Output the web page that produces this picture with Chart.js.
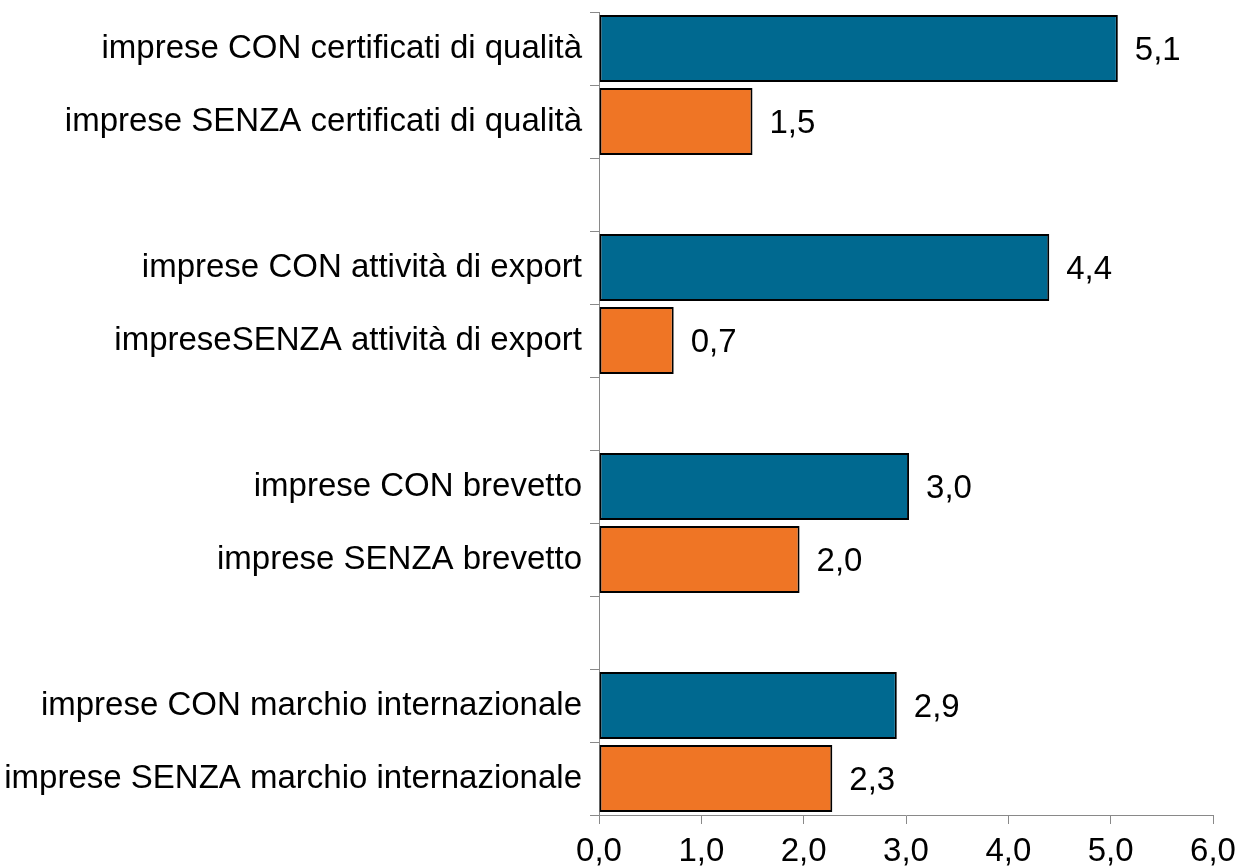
<!DOCTYPE html>
<html>
<head>
<meta charset="utf-8">
<script src="https://cdn.jsdelivr.net/npm/chart.js@4/dist/chart.umd.min.js"></script>
<style>
  body { margin: 0; background: #fff; }
  #wrap { width: 1238px; height: 868px; }
</style>
</head>
<body>
<div id="wrap"><canvas id="chart" width="1238" height="868"></canvas></div>
<script>
// Categories (empty strings are the gaps between groups)
const categories = [
    "imprese CON certificati di qualità",
    "imprese SENZA certificati di qualità",
    "",
    "imprese CON attività di export",
    "impreseSENZA attività di export",
    "",
    "imprese CON brevetto",
    "imprese SENZA brevetto",
    "",
    "imprese CON marchio internazionale",
    "imprese SENZA marchio internazionale"
];

// Values
const values = [5.07, 1.50, null, 4.40, 0.73, null, 3.03, 1.96, null, 2.91, 2.28];

// which bars are the "CON" (blue) ones
const kinds = ["con", "senza", null, "con", "senza", null, "con", "senza", null, "con", "senza"];

const xTicks = [0, 1, 2, 3, 4, 5, 6];

const BLUE = '#006990';
const ORANGE = '#EF7525';
const AXIS = '#898989';
const FONT = '"Liberation Sans", Arial, sans-serif';

function fmt(v) {
    return v.toFixed(1).replace('.', ',');
}

// Draw the value next to the end of each bar
const valueLabels = {
    id: 'valueLabels',
    afterDatasetsDraw(chart) {
        const ctx = chart.ctx;
        const meta = chart.getDatasetMeta(0);
        ctx.save();
        ctx.font = '33px ' + FONT;
        ctx.fillStyle = '#000';
        ctx.textAlign = 'left';
        ctx.textBaseline = 'middle';
        meta.data.forEach(function(bar, i) {
            if (values[i] == null) return;
            ctx.fillText(fmt(values[i]), bar.x + 17, bar.y + 2);
        });
        ctx.restore();
    }
};

const ctx = document.getElementById('chart').getContext('2d');
new Chart(ctx, {
    type: 'bar',
    data: {
        labels: categories,
        datasets: [{
            data: values,
            backgroundColor: kinds.map(k => k === 'con' ? BLUE : ORANGE),
            borderColor: '#000',
            borderWidth: 2,
            borderSkipped: false,
            barPercentage: 0.92,
            categoryPercentage: 1.0
        }]
    },
    options: {
        indexAxis: 'y',
        responsive: false,
        animation: false,
        layout: {
            padding: { top: 12, right: 25, left: 0, bottom: 0 }
        },
        plugins: {
            legend: { display: false },
            tooltip: { enabled: false }
        },
        scales: {
            x: {
                min: 0,
                max: 6,
                afterFit(scale) {
                    scale.height = 53;
                    scale.paddingLeft = 0;
                    scale.paddingRight = 0;
                },
                afterBuildTicks(scale) {
                    scale.ticks = xTicks.map(v => ({ value: v }));
                },
                ticks: {
                    font: { family: FONT, size: 33 },
                    color: '#000',
                    padding: 8,
                    maxRotation: 0,
                    callback: v => fmt(v)
                },
                grid: {
                    drawOnChartArea: false,
                    drawTicks: true,
                    tickLength: 9,
                    color: AXIS
                },
                border: { color: AXIS, width: 1 }
            },
            y: {
                afterFit(scale) {
                    scale.width = 599;
                    scale.paddingTop = 0;
                    scale.paddingBottom = 0;
                },
                ticks: {
                    font: { family: FONT, size: 33 },
                    color: '#000',
                    padding: 8,
                    autoSkip: false
                },
                grid: {
                    offset: true,
                    drawOnChartArea: false,
                    tickLength: 9,
                    color: AXIS
                },
                border: { color: AXIS, width: 1 }
            }
        }
    },
    plugins: [valueLabels]
});
</script>
</body>
</html>
